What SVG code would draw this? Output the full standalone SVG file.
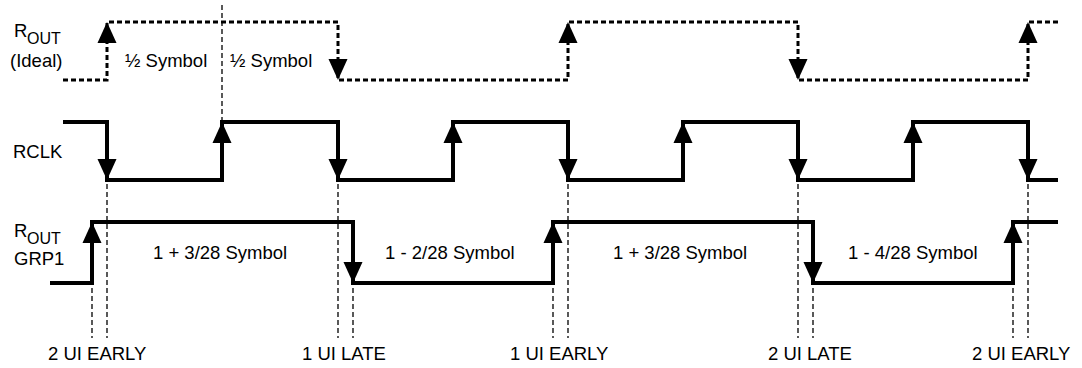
<svg xmlns="http://www.w3.org/2000/svg" width="1082" height="368" viewBox="0 0 1082 368">
<style>
text{font-family:"Liberation Sans",Arial,sans-serif;font-size:18.5px;fill:#000}
.sub{font-size:16px}
.ideal{fill:none;stroke:#000;stroke-width:3;stroke-dasharray:5 3}
.sig{fill:none;stroke:#000;stroke-width:4;stroke-linejoin:miter}
.tick{fill:none;stroke:#000;stroke-width:1.3;stroke-dasharray:5 3}
</style>
<defs>
<path id="up" d="M0,0 L9.5,21 L-9.5,21 Z" fill="#000"/>
<path id="dn" d="M0,0 L9.5,-21 L-9.5,-21 Z" fill="#000"/>
</defs>
<g id="labels">
<g id="rout-ideal-label"><text x="14" y="37">R<tspan class="sub" x="27" y="44">OUT</tspan></text><text x="10" y="67">(Ideal)</text></g>
<g id="rclk-label"><text x="13" y="158">RCLK</text></g>
<g id="rout-grp1-label"><text x="14" y="237">R<tspan class="sub" x="27" y="244">OUT</tspan></text><text x="14" y="265">GRP1</text></g>
</g>
<g id="connectors">
<polyline class="ideal" points="63,80 107,80 107,22 338,22 338,80 568,80 568,22 798,22 798,80 1028,80 1028,22 1058,22"/>
<line class="tick" x1="222" y1="5" x2="222" y2="122"/>
<polyline class="sig" points="63,122 107,122 107,180 222,180 222,122 338,122 338,180 453,180 453,122 568,122 568,180 683,180 683,122 798,122 798,180 913,180 913,122 1028,122 1028,180 1058,180"/>
<polyline class="sig" points="50,283 92,283 92,222 353,222 353,283 553,283 553,222 813,222 813,283 1013,283 1013,222 1058,222"/>
<line class="tick" x1="107" y1="184" x2="107" y2="338"/>
<line class="tick" x1="92" y1="288" x2="92" y2="338"/>
<line class="tick" x1="338" y1="184" x2="338" y2="338"/>
<line class="tick" x1="353" y1="288" x2="353" y2="338"/>
<line class="tick" x1="568" y1="184" x2="568" y2="338"/>
<line class="tick" x1="553" y1="288" x2="553" y2="338"/>
<line class="tick" x1="798" y1="184" x2="798" y2="338"/>
<line class="tick" x1="813" y1="288" x2="813" y2="338"/>
<line class="tick" x1="1028" y1="184" x2="1028" y2="338"/>
<line class="tick" x1="1013" y1="288" x2="1013" y2="338"/>
<use href="#up" x="107" y="22"/><use href="#dn" x="338" y="80"/><use href="#up" x="568" y="22"/><use href="#dn" x="798" y="80"/><use href="#up" x="1028" y="22"/>
<use href="#dn" x="107" y="180"/><use href="#up" x="222" y="122"/><use href="#dn" x="338" y="180"/><use href="#up" x="453" y="122"/><use href="#dn" x="568" y="180"/><use href="#up" x="683" y="122"/><use href="#dn" x="798" y="180"/><use href="#up" x="913" y="122"/><use href="#dn" x="1028" y="180"/>
<use href="#up" x="92" y="222"/><use href="#dn" x="353" y="283"/><use href="#up" x="553" y="222"/><use href="#dn" x="813" y="283"/><use href="#up" x="1013" y="222"/>
</g>
<g id="annotations">
<text x="125" y="67">½ Symbol</text>
<text x="230" y="67">½ Symbol</text>
<text x="153" y="259">1 + 3/28 Symbol</text>
<text x="385" y="259">1 - 2/28 Symbol</text>
<text x="613" y="259">1 + 3/28 Symbol</text>
<text x="848" y="259">1 - 4/28 Symbol</text>
<text x="48" y="360">2 UI EARLY</text>
<text x="302" y="360">1 UI LATE</text>
<text x="510" y="360">1 UI EARLY</text>
<text x="768" y="360">2 UI LATE</text>
<text x="972" y="360">2 UI EARLY</text>
</g>
</svg>
